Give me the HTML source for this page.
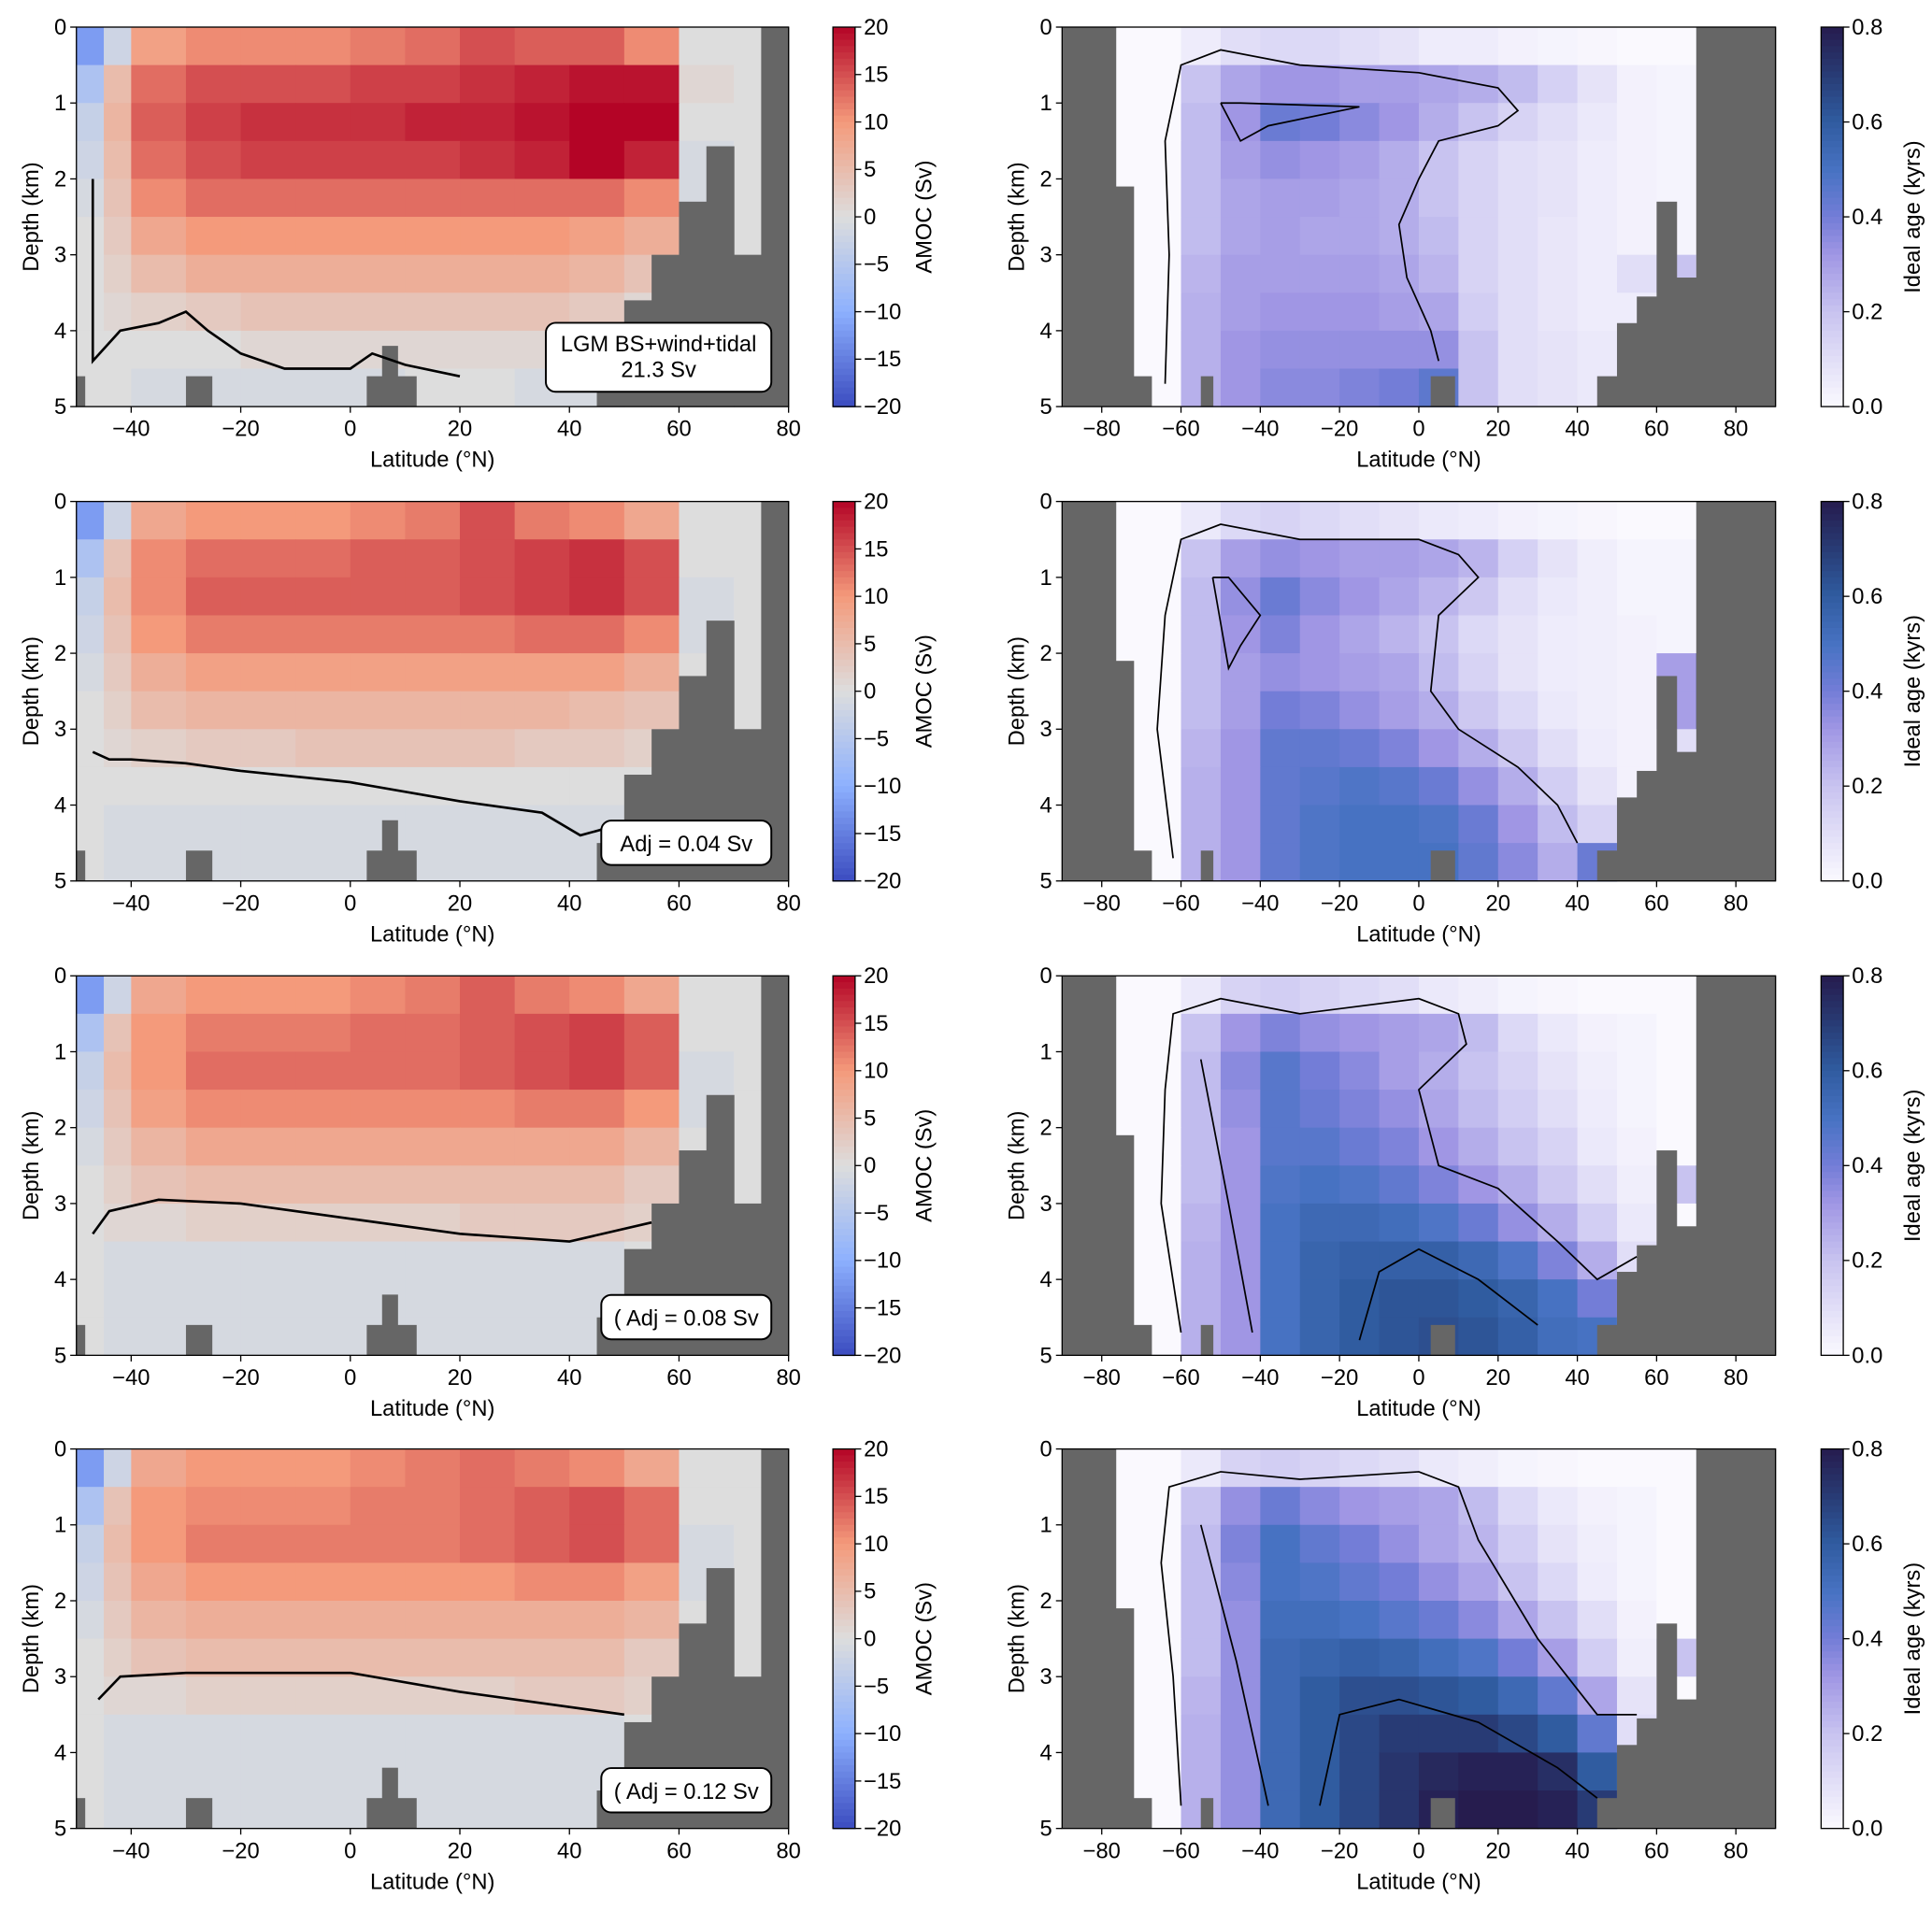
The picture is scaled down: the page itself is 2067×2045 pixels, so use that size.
<!DOCTYPE html>
<html><head><meta charset="utf-8"><style>
html,body{margin:0;padding:0;background:#fff;}
svg{display:block;font-family:"Liberation Sans",Arial,sans-serif;}
</style></head><body>
<svg id="fig" width="2067" height="2045" viewBox="0 0 1568 1551" preserveAspectRatio="none" xmlns="http://www.w3.org/2000/svg"></svg>
<script>
// ---------- DATA ----------
const leftLats = [-50,-45,-40,-30,-20,-10,0,10,20,30,40,50,60,70];
const rightLats = [-90,-80,-70,-60,-50,-40,-30,-20,-10,0,10,20,30,40,50,60,70,80];
const depthRows = [0,0.5,1,1.5,2,2.5,3,3.5,4,4.5];
const amocTicks = [20,15,10,5,0,-5,-10,-15,-20];
const ageTicks = [0.8,0.6,0.4,0.2,0.0];
const leftXTicks = [-40,-20,0,20,40,60,80];
const rightXTicks = [-80,-60,-40,-20,0,20,40,60,80];
const depthTicks = [0,1,2,3,4,5];
const labels = ["LGM BS+wind+tidal|21.3 Sv","Adj  = 0.04 Sv","( Adj = 0.08 Sv","( Adj = 0.12 Sv"];

const amoc1 = [
[-12,-2,9,11,11,11,12,13,15,14,14,11,0,0],
[-6,5,13,15,15,15,16,16,17,18,19,19,1,0],
[-3,6,14,16,17,17,17,18,18,19,20,20,0,0],
[-2,5,13,15,16,16,16,16,17,18,20,18,-1,0],
[-1,4,11,13,13,13,13,13,13,13,13,11,-1,0],
[0,3,8,10,10,10,10,10,10,10,9,7,0,0],
[0,2,5,7,7,7,7,7,7,7,6,4,0,0],
[0,1,2,3,4,4,4,4,4,4,3,1,0,0],
[0,0,0,0,1,1,1,1,1,1,0,0,0,0],
[0,0,-1,-1,-1,-1,-1,0,0,-1,-1,0,0,0]];
const amoc2 = [
[-12,-2,8,10,10,10,11,12,15,12,11,8,0,0],
[-6,4,11,13,13,13,14,14,15,16,17,15,0,0],
[-3,5,11,14,14,14,14,14,15,16,17,15,-1,0],
[-2,4,10,12,12,12,12,12,12,13,13,11,-1,0],
[-1,3,7,9,9,9,9,9,9,9,9,7,0,0],
[0,2,5,6,6,6,6,6,6,6,5,4,0,0],
[0,1,2,3,3,4,4,4,4,3,3,2,0,0],
[0,0,0,0,0,0,0,0,0,0,0,0,0,0],
[0,-1,-1,-1,-1,-1,-1,-1,-1,-1,-1,0,0,0],
[0,-1,-1,-1,-1,-1,-1,-1,-1,-1,-1,0,0,0]];
const amoc3 = [
[-12,-2,8,10,10,10,11,12,14,12,11,8,0,0],
[-6,4,10,12,12,12,13,13,14,15,16,14,0,0],
[-3,5,10,13,13,13,13,13,14,15,16,14,-1,0],
[-2,4,9,11,11,11,11,11,11,12,12,10,-1,0],
[-1,3,6,8,8,8,8,8,8,8,8,6,0,0],
[0,2,4,5,5,5,5,5,5,5,5,3,0,0],
[0,1,1,2,2,2,2,2,3,3,3,2,0,0],
[0,-1,-1,-1,-1,-1,-1,-1,-1,-1,-1,0,0,0],
[0,-1,-1,-1,-1,-1,-1,-1,-1,-1,-1,0,0,0],
[0,-1,-1,-1,-1,-1,-1,-1,-1,-1,-1,0,0,0]];
const amoc4 = [
[-12,-2,8,10,10,10,11,12,13,12,11,8,0,0],
[-6,4,10,11,11,11,12,12,13,14,15,13,0,0],
[-3,5,10,12,12,12,12,12,13,14,15,13,-1,0],
[-2,4,8,10,10,10,10,10,10,11,11,9,-1,0],
[-1,3,6,7,7,7,7,7,7,7,7,6,0,0],
[0,2,4,5,5,5,5,5,5,5,5,3,0,0],
[0,1,1,2,2,2,2,2,2,3,3,2,0,0],
[0,-1,-1,-1,-1,-1,-1,-1,-1,-1,-1,0,0,0],
[0,-1,-1,-1,-1,-1,-1,-1,-1,-1,-1,0,0,0],
[0,-1,-1,-1,-1,-1,-1,-1,-1,-1,-1,0,0,0]];

const age1 = [
[0,0,0,0.05,0.1,0.12,0.12,0.1,0.08,0.05,0.05,0.03,0.02,0.01,0,0,0,0],
[0,0,0,0.2,0.28,0.32,0.32,0.3,0.3,0.28,0.26,0.22,0.15,0.08,0.03,0.02,0,0],
[0,0,0,0.22,0.32,0.42,0.4,0.36,0.32,0.26,0.2,0.14,0.1,0.06,0.03,0.02,0,0],
[0,0,0,0.22,0.3,0.34,0.32,0.3,0.26,0.2,0.14,0.1,0.08,0.05,0.03,0.02,0,0],
[0,0,0,0.22,0.28,0.3,0.3,0.28,0.26,0.2,0.14,0.1,0.08,0.05,0.03,0.02,0,0],
[0,0,0,0.22,0.28,0.3,0.28,0.28,0.26,0.22,0.14,0.1,0.07,0.05,0.03,0.02,0,0],
[0,0,0,0.24,0.3,0.3,0.3,0.3,0.28,0.24,0.14,0.1,0.07,0.05,0.1,0.2,0,0],
[0,0,0,0.25,0.3,0.32,0.32,0.32,0.3,0.28,0.16,0.1,0.07,0.05,0.05,0,0,0],
[0,0,0,0.25,0.32,0.34,0.34,0.34,0.34,0.34,0.2,0.1,0.08,0.06,0.05,0,0,0],
[0,0,0,0.25,0.32,0.36,0.36,0.38,0.4,0.45,0.2,0.1,0.08,0.06,0.05,0,0,0]];
const age2 = [
[0,0,0,0.06,0.12,0.14,0.12,0.1,0.08,0.06,0.05,0.03,0.02,0.01,0,0,0,0],
[0,0,0,0.2,0.3,0.34,0.32,0.3,0.3,0.28,0.24,0.15,0.08,0.04,0.02,0.02,0,0],
[0,0,0,0.22,0.34,0.42,0.36,0.32,0.28,0.24,0.18,0.1,0.06,0.04,0.02,0.02,0,0],
[0,0,0,0.22,0.32,0.38,0.32,0.28,0.24,0.2,0.12,0.08,0.05,0.04,0.03,0.02,0,0],
[0,0,0,0.22,0.3,0.34,0.32,0.3,0.28,0.22,0.14,0.08,0.05,0.04,0.03,0.3,0.7,0],
[0,0,0,0.22,0.3,0.4,0.38,0.34,0.3,0.26,0.18,0.12,0.06,0.04,0.03,0.3,0.7,0],
[0,0,0,0.24,0.32,0.44,0.44,0.42,0.38,0.32,0.26,0.18,0.1,0.05,0.03,0.1,0,0],
[0,0,0,0.25,0.32,0.44,0.46,0.48,0.46,0.42,0.34,0.26,0.16,0.08,0.03,0,0,0],
[0,0,0,0.25,0.32,0.44,0.48,0.5,0.5,0.48,0.42,0.32,0.22,0.14,0.05,0,0,0],
[0,0,0,0.25,0.32,0.44,0.48,0.5,0.5,0.5,0.44,0.36,0.26,0.42,0.05,0,0,0]];
const age3 = [
[0,0,0,0.06,0.14,0.16,0.14,0.12,0.1,0.06,0.04,0.02,0.01,0,0,0,0,0],
[0,0,0,0.2,0.32,0.38,0.34,0.32,0.3,0.28,0.22,0.12,0.06,0.03,0.02,0,0,0],
[0,0,0,0.22,0.36,0.46,0.4,0.36,0.3,0.26,0.2,0.14,0.08,0.04,0.02,0,0,0],
[0,0,0,0.22,0.34,0.46,0.42,0.38,0.34,0.28,0.22,0.16,0.1,0.05,0.02,0,0,0],
[0,0,0,0.22,0.32,0.46,0.46,0.42,0.38,0.32,0.26,0.2,0.14,0.06,0.03,0,0,0],
[0,0,0,0.22,0.32,0.48,0.5,0.48,0.44,0.38,0.32,0.26,0.18,0.1,0.04,0.2,0.6,0],
[0,0,0,0.24,0.32,0.5,0.54,0.54,0.52,0.48,0.42,0.34,0.26,0.16,0.06,0,0,0],
[0,0,0,0.25,0.32,0.5,0.56,0.58,0.58,0.58,0.54,0.48,0.38,0.26,0.1,0,0,0],
[0,0,0,0.25,0.32,0.5,0.56,0.6,0.62,0.62,0.6,0.56,0.5,0.4,0.1,0,0,0],
[0,0,0,0.25,0.32,0.5,0.56,0.6,0.62,0.64,0.62,0.58,0.52,0.5,0.1,0,0,0]];
const age4 = [
[0,0,0,0.06,0.14,0.16,0.14,0.12,0.1,0.06,0.04,0.02,0.01,0,0,0,0,0],
[0,0,0,0.2,0.34,0.42,0.36,0.32,0.3,0.28,0.22,0.12,0.06,0.03,0.02,0,0,0],
[0,0,0,0.22,0.38,0.5,0.44,0.4,0.34,0.28,0.24,0.16,0.08,0.04,0.02,0,0,0],
[0,0,0,0.22,0.36,0.5,0.48,0.44,0.4,0.34,0.28,0.2,0.12,0.05,0.02,0,0,0],
[0,0,0,0.22,0.34,0.52,0.52,0.5,0.46,0.42,0.36,0.28,0.2,0.1,0.03,0,0,0],
[0,0,0,0.22,0.34,0.54,0.56,0.58,0.56,0.52,0.48,0.4,0.3,0.16,0.04,0.2,0,0],
[0,0,0,0.24,0.34,0.54,0.6,0.64,0.64,0.62,0.6,0.54,0.44,0.28,0.08,0,0,0],
[0,0,0,0.25,0.34,0.54,0.6,0.66,0.7,0.7,0.7,0.66,0.6,0.44,0.1,0,0,0],
[0,0,0,0.25,0.34,0.54,0.6,0.66,0.72,0.76,0.78,0.78,0.74,0.6,0.1,0,0,0],
[0,0,0,0.25,0.34,0.54,0.6,0.66,0.72,0.78,0.8,0.8,0.78,0.7,0.1,0,0,0]];

// land masks: [lat0, lat1, topDepth]
const leftMask = [[-50,-48.5,4.6],[-30,-25.3,4.6],[3,12,4.6],[5.8,8.6,4.2],[45,50,4.5],[50,55,3.6],[55,60,3.0],[60,65,2.3],[65,70,1.57],[70,75,3.0],[75,80,0]];
const rightMask = [[-90,-76.5,0],[-76.5,-72,2.1],[-72,-67.5,4.6],[-55,-52,4.6],[3,9,4.6],[45,50,4.6],[50,55,3.9],[55,60,3.55],[60,65,2.3],[65,70,3.3],[70,90,0]];

// contours [lat, depth]
const zero1 = [[-47,2.0],[-47,4.4],[-42,4.0],[-35,3.9],[-30,3.75],[-26,4.0],[-20,4.3],[-12,4.5],[0,4.5],[4,4.3],[10,4.45],[20,4.6]];
const zero2 = [[-47,3.3],[-44,3.4],[-40,3.4],[-30,3.45],[-20,3.55],[0,3.7],[20,3.95],[35,4.1],[42,4.4],[47,4.3]];
const zero3 = [[-47,3.4],[-44,3.1],[-35,2.95],[-20,3.0],[0,3.2],[20,3.4],[40,3.5],[55,3.25]];
const zero4 = [[-46,3.3],[-42,3.0],[-30,2.95],[0,2.95],[20,3.2],[40,3.4],[50,3.5]];
const c02a = [[-64,4.7],[-63,3],[-64,1.5],[-60,0.5],[-50,0.3],[-30,0.5],[0,0.6],[20,0.8],[25,1.1],[20,1.3],[5,1.5],[0,2],[-5,2.6],[-3,3.3],[3,4],[5,4.4]];
const c02b = [[-62,4.7],[-66,3],[-64,1.5],[-60,0.5],[-50,0.3],[-30,0.5],[0,0.5],[10,0.7],[15,1.0],[5,1.5],[3,2.5],[10,3],[25,3.5],[35,4],[40,4.5]];
const c02c = [[-60,4.7],[-65,3],[-64,1.5],[-62,0.5],[-50,0.3],[-30,0.5],[0,0.3],[10,0.5],[12,0.9],[0,1.5],[5,2.5],[20,2.8],[35,3.5],[45,4.0],[55,3.7]];
const c02d = [[-60,4.7],[-62,3],[-65,1.5],[-63,0.5],[-50,0.3],[-30,0.4],[0,0.3],[10,0.5],[15,1.2],[30,2.5],[45,3.5],[55,3.5]];
const c04a = [[-50,1.0],[-45,1.5],[-38,1.3],[-15,1.05],[-45,1.0],[-50,1.0]];
const c04b = [[-52,1.0],[-48,2.2],[-45,1.9],[-40,1.5],[-48,1.0],[-52,1.0]];
const c04c = [[-55,1.1],[-48,3.0],[-42,4.7]];
const c04d = [[-55,1.0],[-46,2.8],[-38,4.7]];
const c06c = [[-15,4.8],[-10,3.9],[0,3.6],[15,4.0],[30,4.6]];
const c06d = [[-25,4.7],[-20,3.5],[-5,3.3],[15,3.6],[35,4.2],[45,4.6]];

const amocSets=[amoc1,amoc2,amoc3,amoc4];
const ageSets=[age1,age2,age3,age4];
const zeroSets=[zero1,zero2,zero3,zero4];
const rightContours=[[c02a,c04a],[c02b,c04b],[c02c,c04c,c06c],[c02d,c04d,c06d]];

// ---------- helpers ----------
const NS="http://www.w3.org/2000/svg";
const svg=document.getElementById('fig');
function el(tag,attrs,parent,text){const e=document.createElementNS(NS,tag);for(const k in attrs)e.setAttribute(k,attrs[k]);if(text!==undefined)e.textContent=text;(parent||svg).appendChild(e);return e;}
function lerpStops(stops,t){t=Math.max(0,Math.min(1,t));for(let i=1;i<stops.length;i++){if(t<=stops[i][0]){const a=stops[i-1],b=stops[i];const f=(t-a[0])/(b[0]-a[0]);const c=[0,1,2].map(k=>Math.round(a[1][k]+(b[1][k]-a[1][k])*f));return `rgb(${c[0]},${c[1]},${c[2]})`;}}return 'rgb(0,0,0)';}
const cwStops=[[0,[59,76,192]],[0.25,[141,176,254]],[0.5,[221,221,221]],[0.75,[244,154,123]],[1,[180,4,38]]];
const ageStops=[[0,[250,249,254]],[0.25,[200,195,240]],[0.4,[160,150,228]],[0.5,[115,125,215]],[0.62,[72,115,195]],[0.75,[48,92,160]],[0.88,[40,58,115]],[1,[38,28,78]]];
const amocColor=v=>lerpStops(cwStops,(v+20)/40);
const ageColor=v=>lerpStops(ageStops,v/0.8);

const tops=[22,407,792,1176], H=308;
const LX0=62,LX1=640,RX0=862,RX1=1441;
const xL=lat=>LX0+(lat+50)/130*(LX1-LX0);
const xR=lat=>RX0+(lat+90)/180*(RX1-RX0);
const yD=(d,top)=>top+d/5*H;
const FS=18;

function axes(g,x0,x1,top,xs,xTicks){
  el('rect',{x:x0,y:top,width:x1-x0,height:H,fill:'none',stroke:'#000','stroke-width':1},g);
  xTicks.forEach(t=>{const x=xs(t);el('line',{x1:x,y1:top+H,x2:x,y2:top+H+5,stroke:'#000'},g);
    const tl=el('text',{x:x,y:top+H+24,'text-anchor':'middle','font-size':FS},g,t===0?'0':(t<0?'\u2212'+(-t):String(t)));
    });
  depthTicks.forEach(d=>{const y=yD(d,top);el('line',{x1:x0-5,y1:y,x2:x0,y2:y,stroke:'#000'},g);
    const tl=el('text',{x:x0-8,y:y+6,'text-anchor':'end','font-size':FS},g,String(d));
    });
  const xt=el('text',{x:(x0+x1)/2,y:top+H+49,'text-anchor':'middle','font-size':FS},g,'Latitude (°N)');
  
  const yt=el('text',{transform:`translate(${x0-31},${top+H/2}) rotate(-90)`,'text-anchor':'middle','font-size':FS},g,'Depth (km)');
  
}
function colorbar(g,x,top,colorFn,vmin,vmax,ticks,fmt,title){
  const n=60,h=H/n;
  for(let i=0;i<n;i++){const v=vmax-(i+0.5)/n*(vmax-vmin);el('rect',{x:x,y:top+i*h,width:18,height:h+0.6,fill:colorFn(v)},g);}
  el('rect',{x:x,y:top,width:18,height:H,fill:'none',stroke:'#000'},g);
  ticks.forEach(t=>{const y=top+(vmax-t)/(vmax-vmin)*H;el('line',{x1:x+18,y1:y,x2:x+23,y2:y,stroke:'#000'},g);
    const tl=el('text',{x:x+25,y:y+6,'font-size':FS},g,fmt(t));
    });
  const tt=el('text',{transform:`translate(${x+80},${top+H/2}) rotate(-90)`,'text-anchor':'middle','font-size':FS},g,title);
  
}
function line(g,pts,xs,top,w){const d=pts.map((p,i)=>(i?'L':'M')+xs(p[0]).toFixed(1)+','+yD(p[1],top).toFixed(1)).join(' ');
  return el('path',{d:d,fill:'none',stroke:'#000','stroke-width':w},g);}

// ---------- draw ----------
for(let p=0;p<4;p++){
  const top=tops[p];
  const gL=el('g',{});
  
  const grid=amocSets[p];
  depthRows.forEach((d,r)=>{leftLats.forEach((lat,c)=>{
    const lat1=c+1<leftLats.length?leftLats[c+1]:80;
    const cell=el('rect',{x:xL(lat),y:yD(d,top),width:xL(lat1)-xL(lat)+0.5,height:H/10+0.5,fill:amocColor(grid[r][c])},gL);
    });});
  leftMask.forEach(m=>{const lm=el('rect',{x:xL(m[0]),y:yD(m[2],top),width:xL(m[1])-xL(m[0])+0.5,height:yD(5,top)-yD(m[2],top),fill:'#666'},gL);
    });
  const zc=line(gL,zeroSets[p],xL,top,2);
  
  axes(gL,LX0,LX1,top,xL,leftXTicks);
  colorbar(gL,676,top,amocColor,-20,20,amocTicks,t=>t<0?'\u2212'+(-t):String(t),'AMOC (Sv)');
  const lab=labels[p].split('|');
  const bx=p===0?443:488, bw=p===0?183:138, by=p===0?top+240:top+259, bh=p===0?56:36;
  const box=el('g',{},gL);
  el('rect',{x:bx,y:by,width:bw,height:bh,rx:8,ry:8,fill:'#fff',stroke:'#000','stroke-width':1.5},box);
  lab.forEach((s,i)=>el('text',{x:bx+bw/2,y:by+(lab.length===1?25:23+i*21),'text-anchor':'middle','font-size':18},box,s));

  const gR=el('g',{});
  
  const ag=ageSets[p];
  depthRows.forEach((d,r)=>{rightLats.forEach((lat,c)=>{
    const cell=el('rect',{x:xR(lat),y:yD(d,top),width:xR(lat+10)-xR(lat)+0.5,height:H/10+0.5,fill:ageColor(ag[r][c])},gR);
    });});
  rightMask.forEach(m=>{const lm=el('rect',{x:xR(m[0]),y:yD(m[2],top),width:xR(m[1])-xR(m[0])+0.5,height:yD(5,top)-yD(m[2],top),fill:'#666'},gR);
    });
  rightContours[p].forEach(c=>{const cl=line(gR,c,xR,top,1.3);});
  axes(gR,RX0,RX1,top,xR,rightXTicks);
  colorbar(gR,1478,top,ageColor,0,0.8,ageTicks,t=>t.toFixed(1),'Ideal age (kyrs)');
}
</script>
</body></html>
